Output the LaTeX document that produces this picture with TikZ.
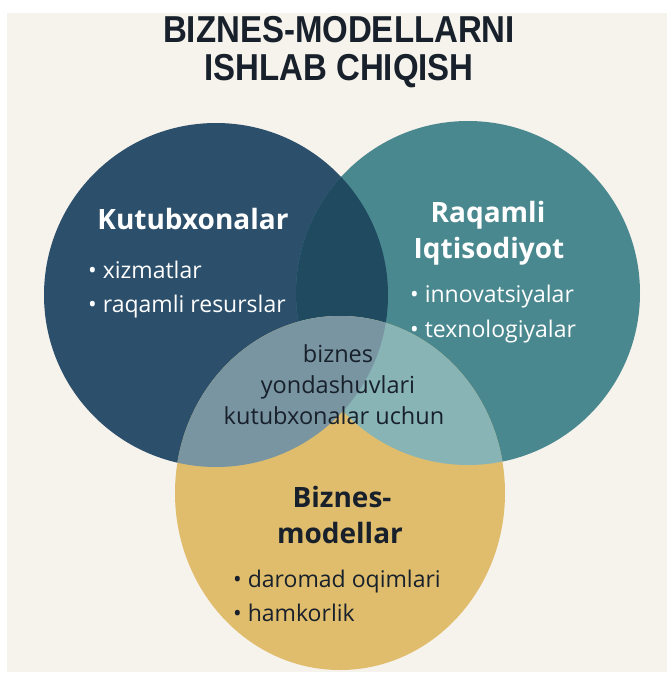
\documentclass[tikz,border=0pt]{standalone}
\usepackage{fontspec}
\setmainfont{Open Sans}
\newfontfamily\titlefont[FakeStretch=0.88]{Liberation Sans}
\definecolor{bgc}{HTML}{F6F2EC}
\definecolor{cblue}{HTML}{2C4F6B}
\definecolor{cteal}{HTML}{4A888F}
\definecolor{cdark}{HTML}{1F4A60}
\definecolor{cyel}{HTML}{E0BD6C}
\definecolor{cgray}{HTML}{7895A1}
\definecolor{clteal}{HTML}{88B4B6}
\definecolor{ink}{HTML}{17202B}
\tikzset{
  ttl/.style={font=\titlefont\fontsize{37.5}{40}\selectfont\bfseries, text=ink, anchor=base, inner sep=0pt},
  head/.style={font=\fontsize{28}{32}\selectfont\bfseries, anchor=base, inner sep=0pt},
  item/.style={font=\fontsize{23}{26}\selectfont, anchor=base west, inner sep=0pt},
  mid/.style={font=\fontsize{23.5}{26}\selectfont, text=ink, anchor=base, inner sep=0pt}
}
\begin{document}
\begin{tikzpicture}[x=1pt,y=-1pt]
\useasboundingbox (0,0) rectangle (667,673);
\fill[white] (0,0) rectangle (667,673);
\fill[bgc] (7,13) rectangle (667,672);
\coordinate (cL) at (216,295);
\coordinate (cR) at (468,293);
\coordinate (cY) at (340,493);
\fill[cblue] (cL) circle[radius=172];
\fill[cteal] (cR) circle[radius=172];
\begin{scope}
  \clip (cL) circle[radius=172];
  \fill[cdark] (cR) circle[radius=172];
\end{scope}
\fill[cyel] (cY) ellipse[x radius=165, y radius=177];
\begin{scope}
  \clip (cY) ellipse[x radius=165, y radius=177];
  \fill[clteal] (cR) circle[radius=172];
  \fill[cgray] (cL) circle[radius=172];
\end{scope}
% title
\node[ttl] (t1) at (339,42) {BIZNES-MODELLARNI};
\node[ttl] (t2) at (339,80) {ISHLAB CHIQISH};
% left circle
\node[head, text=white] (kh) at (193,229) {Kutubxonalar};
\node[item, text=white] (k1) at (88,278) {• xizmatlar};
\node[item, text=white] (k2) at (88,312) {• raqamli resurslar};
% right circle
\node[head, text=white] (r1) at (488,222) {Raqamli};
\node[head, text=white] (r2) at (489,258) {Iqtisodiyot};
\node[item, text=white] (ri1) at (410,302) {• innovatsiyalar};
\node[item, text=white] (ri2) at (410,337) {• texnologiyalar};
% center
\node[mid] (m1) at (338,362) {biznes};
\node[mid] (m2) at (338,393) {yondashuvlari};
\node[mid] (m3) at (334,424) {kutubxonalar uchun};
% bottom circle
\node[head, text=ink] (b1) at (342,507) {Biznes-};
\node[head, text=ink] (b2) at (340,543) {modellar};
\node[item, text=ink] (bi1) at (233,587) {• daromad oqimlari};
\node[item, text=ink] (bi2) at (233,621) {• hamkorlik};
\end{tikzpicture}
\end{document}
